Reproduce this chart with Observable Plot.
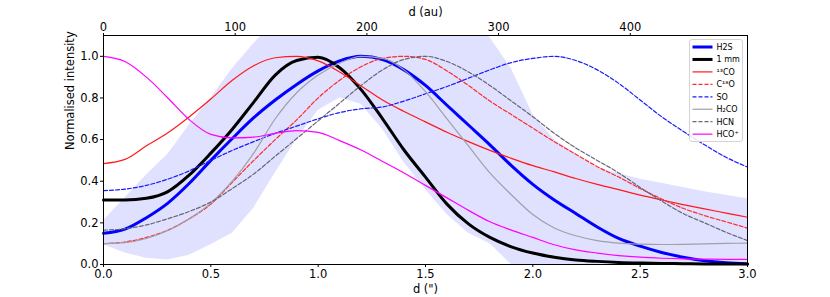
<!DOCTYPE html>
<html><head><meta charset="utf-8">
<script src="https://cdn.jsdelivr.net/npm/d3@7"></script>
<script src="https://cdn.jsdelivr.net/npm/@observablehq/plot@0.6"></script>
<style>
body{margin:0;background:#fff;}
#wrap{position:relative;width:830px;height:297px;font-family:"DejaVu Sans",sans-serif;}
#legend{position:absolute;left:689px;top:39px;width:54px;height:103px;border:1px solid #d4d4d4;border-radius:3px;background:rgba(255,255,255,0.85);box-sizing:border-box;}
#legend svg{position:absolute;left:0;top:0;}
</style></head><body><div id="wrap"><div id="legend"></div></div>
<script>
// distance from centre, arcsec
const dArcsec = [0,0.1,0.2,0.3,0.4,0.5,0.6,0.7,0.8,0.9,1.0,1.1,1.2,1.3,1.4,1.5,1.6,1.7,1.8,1.9,2.0,2.1,2.2,2.3,2.4,2.5,2.6,2.7,2.8,2.9,3.0];
const h2s   = [0.15,0.17,0.225,0.295,0.39,0.50,0.605,0.705,0.79,0.865,0.93,0.978,1.0,0.985,0.935,0.86,0.765,0.67,0.575,0.475,0.385,0.31,0.245,0.18,0.125,0.088,0.058,0.035,0.018,0.008,0.003];
const mm1   = [0.31,0.31,0.318,0.35,0.43,0.535,0.65,0.78,0.91,0.98,0.995,0.945,0.84,0.70,0.55,0.42,0.29,0.195,0.13,0.085,0.055,0.035,0.022,0.015,0.01,0.007,0.005,0.004,0.003,0.003,0.003];
const co13  = [0.485,0.505,0.57,0.633,0.71,0.795,0.885,0.955,0.993,1.0,0.978,0.925,0.858,0.79,0.735,0.685,0.635,0.59,0.548,0.51,0.475,0.445,0.413,0.385,0.36,0.333,0.31,0.288,0.267,0.247,0.227];
const c18o  = [0.10,0.108,0.13,0.165,0.22,0.29,0.395,0.50,0.60,0.695,0.80,0.885,0.95,0.99,1.0,0.985,0.93,0.86,0.785,0.72,0.655,0.59,0.53,0.47,0.42,0.365,0.315,0.27,0.235,0.205,0.175];
const so    = [0.355,0.362,0.38,0.41,0.45,0.50,0.548,0.59,0.63,0.665,0.70,0.73,0.748,0.757,0.785,0.82,0.855,0.895,0.935,0.97,0.99,1.0,0.98,0.935,0.87,0.79,0.71,0.64,0.575,0.515,0.468];
const h2co  = [0.10,0.105,0.125,0.163,0.22,0.295,0.40,0.535,0.70,0.825,0.91,0.967,1.0,0.99,0.935,0.83,0.70,0.57,0.44,0.335,0.24,0.175,0.138,0.115,0.103,0.098,0.096,0.097,0.099,0.101,0.103];
const hcn   = [0.165,0.172,0.19,0.22,0.255,0.30,0.365,0.435,0.52,0.605,0.69,0.775,0.86,0.935,0.985,1.0,0.975,0.925,0.86,0.785,0.71,0.63,0.56,0.50,0.44,0.37,0.305,0.245,0.20,0.155,0.115];
const hcop  = [1.0,0.975,0.90,0.80,0.695,0.625,0.608,0.612,0.63,0.643,0.635,0.595,0.55,0.495,0.44,0.38,0.32,0.26,0.205,0.165,0.13,0.095,0.07,0.055,0.043,0.035,0.03,0.027,0.026,0.025,0.025];
// shaded band (H2S uncertainty)
const bandLo = [0.095,0.055,0.03,0.022,0.045,0.095,0.15,0.27,0.44,0.60,0.74,0.80,0.77,0.65,0.49,0.36,0.24,0.15,0.10,0,0,0,0,0,0,0,0,0,0,0,0];
const bandHi = [0.21,0.32,0.43,0.53,0.67,0.80,0.94,1.06,1.17,1.25,1.30,1.32,1.33,1.33,1.32,1.30,1.26,1.19,1.09,0.94,0.72,0.60,0.53,0.465,0.437,0.41,0.39,0.37,0.35,0.333,0.316];

const seriesNames = ["H2S","1 mm","¹³CO","C¹⁸O","SO","H₂CO","HCN","HCO⁺"];
const seriesValues = [h2s, mm1, co13, c18o, so, h2co, hcn, hcop];
const seriesColors = ["#0000ff","#000000","#ff1a1a","#ff2a2a","#1a1aff","#a0a0a8","#666677","#ff00ff"];
const seriesWidths = [3,3,1.2,1.2,1.2,1.2,1.2,1.2];
const seriesDash   = [null,null,null,"4,2","4,2",null,"4,2",null];

const xTicks = [0,0.5,1.0,1.5,2.0,2.5,3.0];
const yTicks = [0,0.2,0.4,0.6,0.8,1.0];
const auTicks = [0,100,200,300,400];
const distancePc = 163; // au per arcsec

const band = dArcsec.map((d,i)=>({d, lo: bandLo[i], hi: bandHi[i]}));

const lineMarks = seriesNames.map((name, k) => Plot.line(
  dArcsec.map((d,i)=>({d, v: seriesValues[k][i]})),
  {x:"d", y:"v", stroke: seriesColors[k], strokeWidth: seriesWidths[k],
   strokeDasharray: seriesDash[k] || undefined, curve:"monotone-x"}));

const chart = Plot.plot({
  width: 830, height: 297,
  marginLeft: 103, marginRight: 83, marginTop: 35, marginBottom: 33,
  style: {fontFamily: "DejaVu Sans, sans-serif", fontSize: "11.5px", background: "white", color: "black"},
  x: {domain: [0,3]},
  y: {domain: [0,1.1]},
  marks: [
    Plot.areaY(band, {x:"d", y1:"lo", y2:"hi", fill:"#0000ff", fillOpacity:0.12, clip:true}),
    ...lineMarks,
    Plot.frame({stroke:"black", strokeWidth:1}),
    Plot.axisX(xTicks, {anchor:"bottom", tickFormat: d3.format(".1f"), tickSize:3, tickPadding:2, label:null}),
    Plot.axisX(auTicks.map(a => a / distancePc), {anchor:"top", tickFormat: d => String(Math.round(d*distancePc)), tickSize:3, tickPadding:2, label:null}),
    Plot.axisY(yTicks, {anchor:"left", tickFormat: d3.format(".1f"), tickSize:3, tickPadding:2, label:null}),
    Plot.text(["d (\")"], {text: d=>d, frameAnchor:"bottom", lineAnchor:"middle", dy: 25, fontSize: 11.5}),
    Plot.text(["d (au)"], {text: d=>d, frameAnchor:"top", lineAnchor:"middle", dy: -23, fontSize: 11.5}),
    Plot.text(["Normalised intensity"], {text: d=>d, frameAnchor:"left", lineAnchor:"middle", dx: -33, rotate: -90, fontSize: 11.5})
  ]
});
document.getElementById("wrap").prepend(chart);

// legend
const lg = d3.select("#legend").append("svg").attr("width", 54).attr("height", 103)
  .style("font-family","DejaVu Sans, sans-serif").style("font-size","8px");
seriesNames.forEach((name,k) => {
  const y = 7 + k*12.45;
  lg.append("line").attr("x1",2.5).attr("x2",22.5).attr("y1",y).attr("y2",y)
    .attr("stroke", seriesColors[k]).attr("stroke-width", seriesWidths[k])
    .attr("stroke-dasharray", seriesDash[k]);
  lg.append("text").attr("x",26.5).attr("y",y).attr("dy","0.35em").text(name);
});
</script>
</body></html>
